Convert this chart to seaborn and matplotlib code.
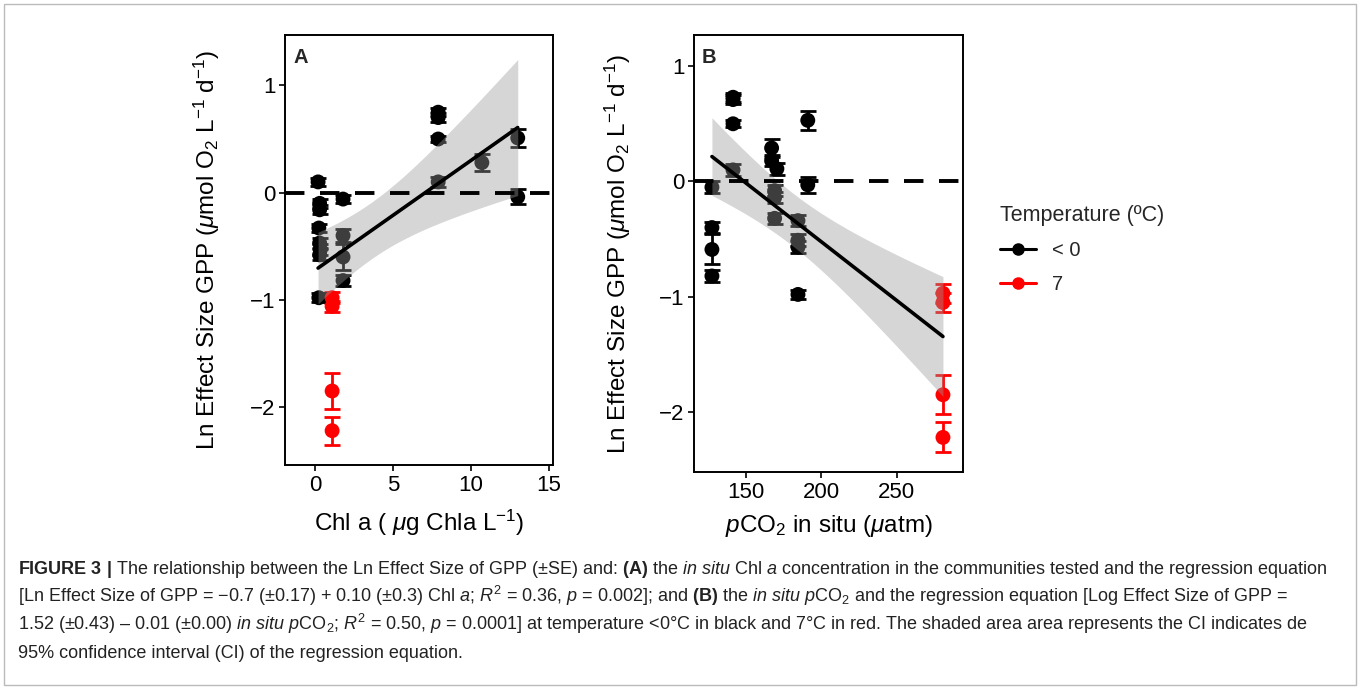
import numpy as np
import pandas as pd
import matplotlib
matplotlib.use("Agg")
import matplotlib.pyplot as plt
import seaborn as sns
from matplotlib import font_manager
from matplotlib.lines import Line2D
from matplotlib.patches import Rectangle

# Panel A: Chl a vs Ln effect size GPP
chl_a = [0.2, 0.3, 0.3, 0.25, 0.3, 0.35, 0.3, 0.25,
         1.8, 1.8, 1.8, 1.8,
         7.9, 7.9, 7.9, 7.9,
         10.7, 13.0, 13.0,
         1.1, 1.1, 1.1, 1.1]
gpp_a = [0.10, -0.10, -0.16, -0.33, -0.47, -0.53, -0.58, -0.98,
         -0.06, -0.40, -0.60, -0.82,
         0.75, 0.70, 0.50, 0.10,
         0.28, 0.51, -0.04,
         -0.98, -1.06, -1.85, -2.22]
se_a = [0.04, 0.04, 0.04, 0.04, 0.05, 0.05, 0.05, 0.04,
        0.04, 0.06, 0.12, 0.05,
        0.04, 0.04, 0.03, 0.05,
        0.08, 0.08, 0.07,
        0.05, 0.05, 0.17, 0.13]
temp_a = ["< 0"] * 19 + ["7"] * 4

# Panel B: pCO2 vs Ln effect size GPP
pco2_b = [127.4, 127.4, 127.4, 127.4,
          141.4, 141.4, 141.4, 141.4,
          167.0, 167.0, 170.5, 169.0, 169.0, 169.0,
          184.5, 184.5, 184.5, 184.5,
          191.0, 191.0,
          280.7, 280.7, 280.7, 280.7]
gpp_b = [-0.05, -0.40, -0.59, -0.82,
         0.73, 0.71, 0.50, 0.10,
         0.29, 0.18, 0.11, -0.08, -0.14, -0.32,
         -0.34, -0.51, -0.57, -0.98,
         0.53, -0.03,
         -0.97, -1.05, -1.85, -2.22]
se_b = [0.05, 0.05, 0.13, 0.05,
        0.04, 0.04, 0.03, 0.05,
        0.08, 0.05, 0.05, 0.05, 0.05, 0.05,
        0.05, 0.05, 0.05, 0.04,
        0.08, 0.07,
        0.08, 0.08, 0.17, 0.13]
temp_b = ["< 0"] * 20 + ["7"] * 4

palette = {"< 0": "black", "7": "#FF0000"}

# caption lines (mathtext for bold / italic parts)
caption = [
    r"$\mathbf{FIGURE\ 3\ |}$ The relationship between the Ln Effect Size of GPP (±SE) and: $\mathbf{(A)}$ the $\mathit{in\ situ}$ Chl $\mathit{a}$ concentration in the communities tested and the regression equation",
    r"[Ln Effect Size of GPP = −0.7 (±0.17) + 0.10 (±0.3) Chl $\mathit{a}$; $\mathit{R}^{2}$ = 0.36, $\mathit{p}$ = 0.002]; and $\mathbf{(B)}$ the $\mathit{in\ situ}$ $\mathit{p}\mathrm{CO}_{2}$ and the regression equation [Log Effect Size of GPP =",
    r"1.52 (±0.43) – 0.01 (±0.00) $\mathit{in\ situ}$ $\mathit{p}\mathrm{CO}_{2}$; $\mathit{R}^{2}$ = 0.50, $\mathit{p}$ = 0.0001] at temperature <0°C in black and 7°C in red. The shaded area area represents the CI indicates de",
    r"95% confidence interval (CI) of the regression equation.",
]

sns.set_theme(style="ticks")
installed = {f.name for f in font_manager.fontManager.ttflist}
narrow = "Liberation Sans Narrow" if "Liberation Sans Narrow" in installed else "Liberation Sans"
cap_size = 13.5 if narrow == "Liberation Sans Narrow" else 13.0
plt.rcParams["font.family"] = ["Liberation Sans", "DejaVu Sans"]
plt.rcParams["mathtext.fontset"] = "custom"
plt.rcParams["mathtext.rm"] = narrow
plt.rcParams["mathtext.it"] = narrow + ":italic"
plt.rcParams["mathtext.bf"] = narrow + ":bold"

W, H = 1360, 689
fig = plt.figure(figsize=(W / 100, H / 100), dpi=100)


def px_axes(x0, y0, x1, y1):
    return fig.add_axes([x0 / W, 1 - y1 / H, (x1 - x0) / W, (y1 - y0) / H])


def fit_ci(x, y, t=2.074, n=80):
    x = np.asarray(x, float)
    y = np.asarray(y, float)
    b, a = np.polyfit(x, y, 1)
    resid = y - (a + b * x)
    s = np.sqrt(np.sum(resid ** 2) / (len(x) - 2))
    xs = np.linspace(x.min(), x.max(), n)
    sxx = np.sum((x - x.mean()) ** 2)
    se = s * np.sqrt(1 / len(x) + (xs - x.mean()) ** 2 / sxx)
    fit = a + b * xs
    return xs, fit, fit - t * se, fit + t * se


def panel(ax, x, y, se, temp, xlabel, label, xlim, ylim, xticks):
    df = pd.DataFrame({"x": x, "y": y, "se": se, "temp": temp})
    for key, sub in df.groupby("temp"):
        ax.errorbar(sub["x"], sub["y"], yerr=sub["se"], fmt="none",
                    ecolor=palette[key], elinewidth=2.0, capsize=5.5,
                    capthick=2.0, zorder=2)
    sns.scatterplot(data=df, x="x", y="y", hue="temp", palette=palette,
                    s=115, edgecolor="none", legend=False, ax=ax, zorder=3)
    xs, fit, lo, hi = fit_ci(x, y)
    ax.fill_between(xs, lo, hi, color="#999999", alpha=0.4, lw=0, zorder=4)
    sns.lineplot(x=xs, y=fit, color="black", lw=2.6, ax=ax, zorder=5)
    ax.axhline(0, color="black", lw=2.8, ls=(0, (5, 4)), zorder=6)
    ax.set_xlim(*xlim)
    ax.set_ylim(*ylim)
    ax.set_xticks(xticks)
    ax.set_yticks([-2, -1, 0, 1])
    ax.set_yticklabels(["−2", "−1", "0", "1"])
    for sp in ax.spines.values():
        sp.set_visible(True)
        sp.set_color("black")
        sp.set_linewidth(1.4)
    ax.tick_params(direction="out", length=4, width=1.2, labelsize=16,
                   colors="black", pad=3)
    ax.set_xlabel(xlabel, fontsize=17.5, color="black")
    ax.set_ylabel(r"Ln Effect Size GPP ($\mu$mol O$_2$ L$^{-1}$ d$^{-1}$)",
                  fontsize=17.5, color="black")
    ax.text(0.03, 0.97, label, transform=ax.transAxes, fontsize=14.5,
            fontweight="bold", va="top", ha="left")


ax_a = px_axes(285, 35, 553, 465)
panel(ax_a, chl_a, gpp_a, se_a, temp_a, r"Chl a ( $\mu$g Chla L$^{-1}$)", "A",
      (-1.92, 15.26), (-2.54, 1.47), [0, 5, 10, 15])
ax_a.yaxis.set_label_coords(-0.235, 0.5)
ax_a.xaxis.set_label_coords(0.5, -0.1)

ax_b = px_axes(694, 35, 963, 472)
panel(ax_b, pco2_b, gpp_b, se_b, temp_b, r"$\mathit{p}$CO$_2$ in situ ($\mu$atm)", "B",
      (115.5, 294), (-2.52, 1.27), [150, 200, 250])
ax_b.yaxis.set_label_coords(-0.227, 0.5)
ax_b.xaxis.set_label_coords(0.5, -0.093)

handles = [Line2D([0], [0], color=palette[k], marker="o", lw=2.2, ms=8)
           for k in ["< 0", "7"]]
fig.legend(handles, ["< 0", "7"], title="Temperature (ºC)", frameon=False,
           loc="upper left", bbox_to_anchor=(982 / W, 1 - 187 / H),
           fontsize=14.5, title_fontsize=15.5, handlelength=1.8,
           labelspacing=0.75, alignment="left")

# frame and caption
fig.add_artist(Rectangle((4 / W, 4 / H), 1 - 8 / W, 1 - 8 / H, transform=fig.transFigure,
                         fill=False, edgecolor="#bbbbbb", lw=1))
for i, line in enumerate(caption):
    fig.text(18 / W, 1 - (574 + 28 * i) / H, line, fontsize=cap_size,
             family=[narrow, "DejaVu Sans"], color="#222222", va="baseline")

fig.savefig("out.png", dpi=100)
